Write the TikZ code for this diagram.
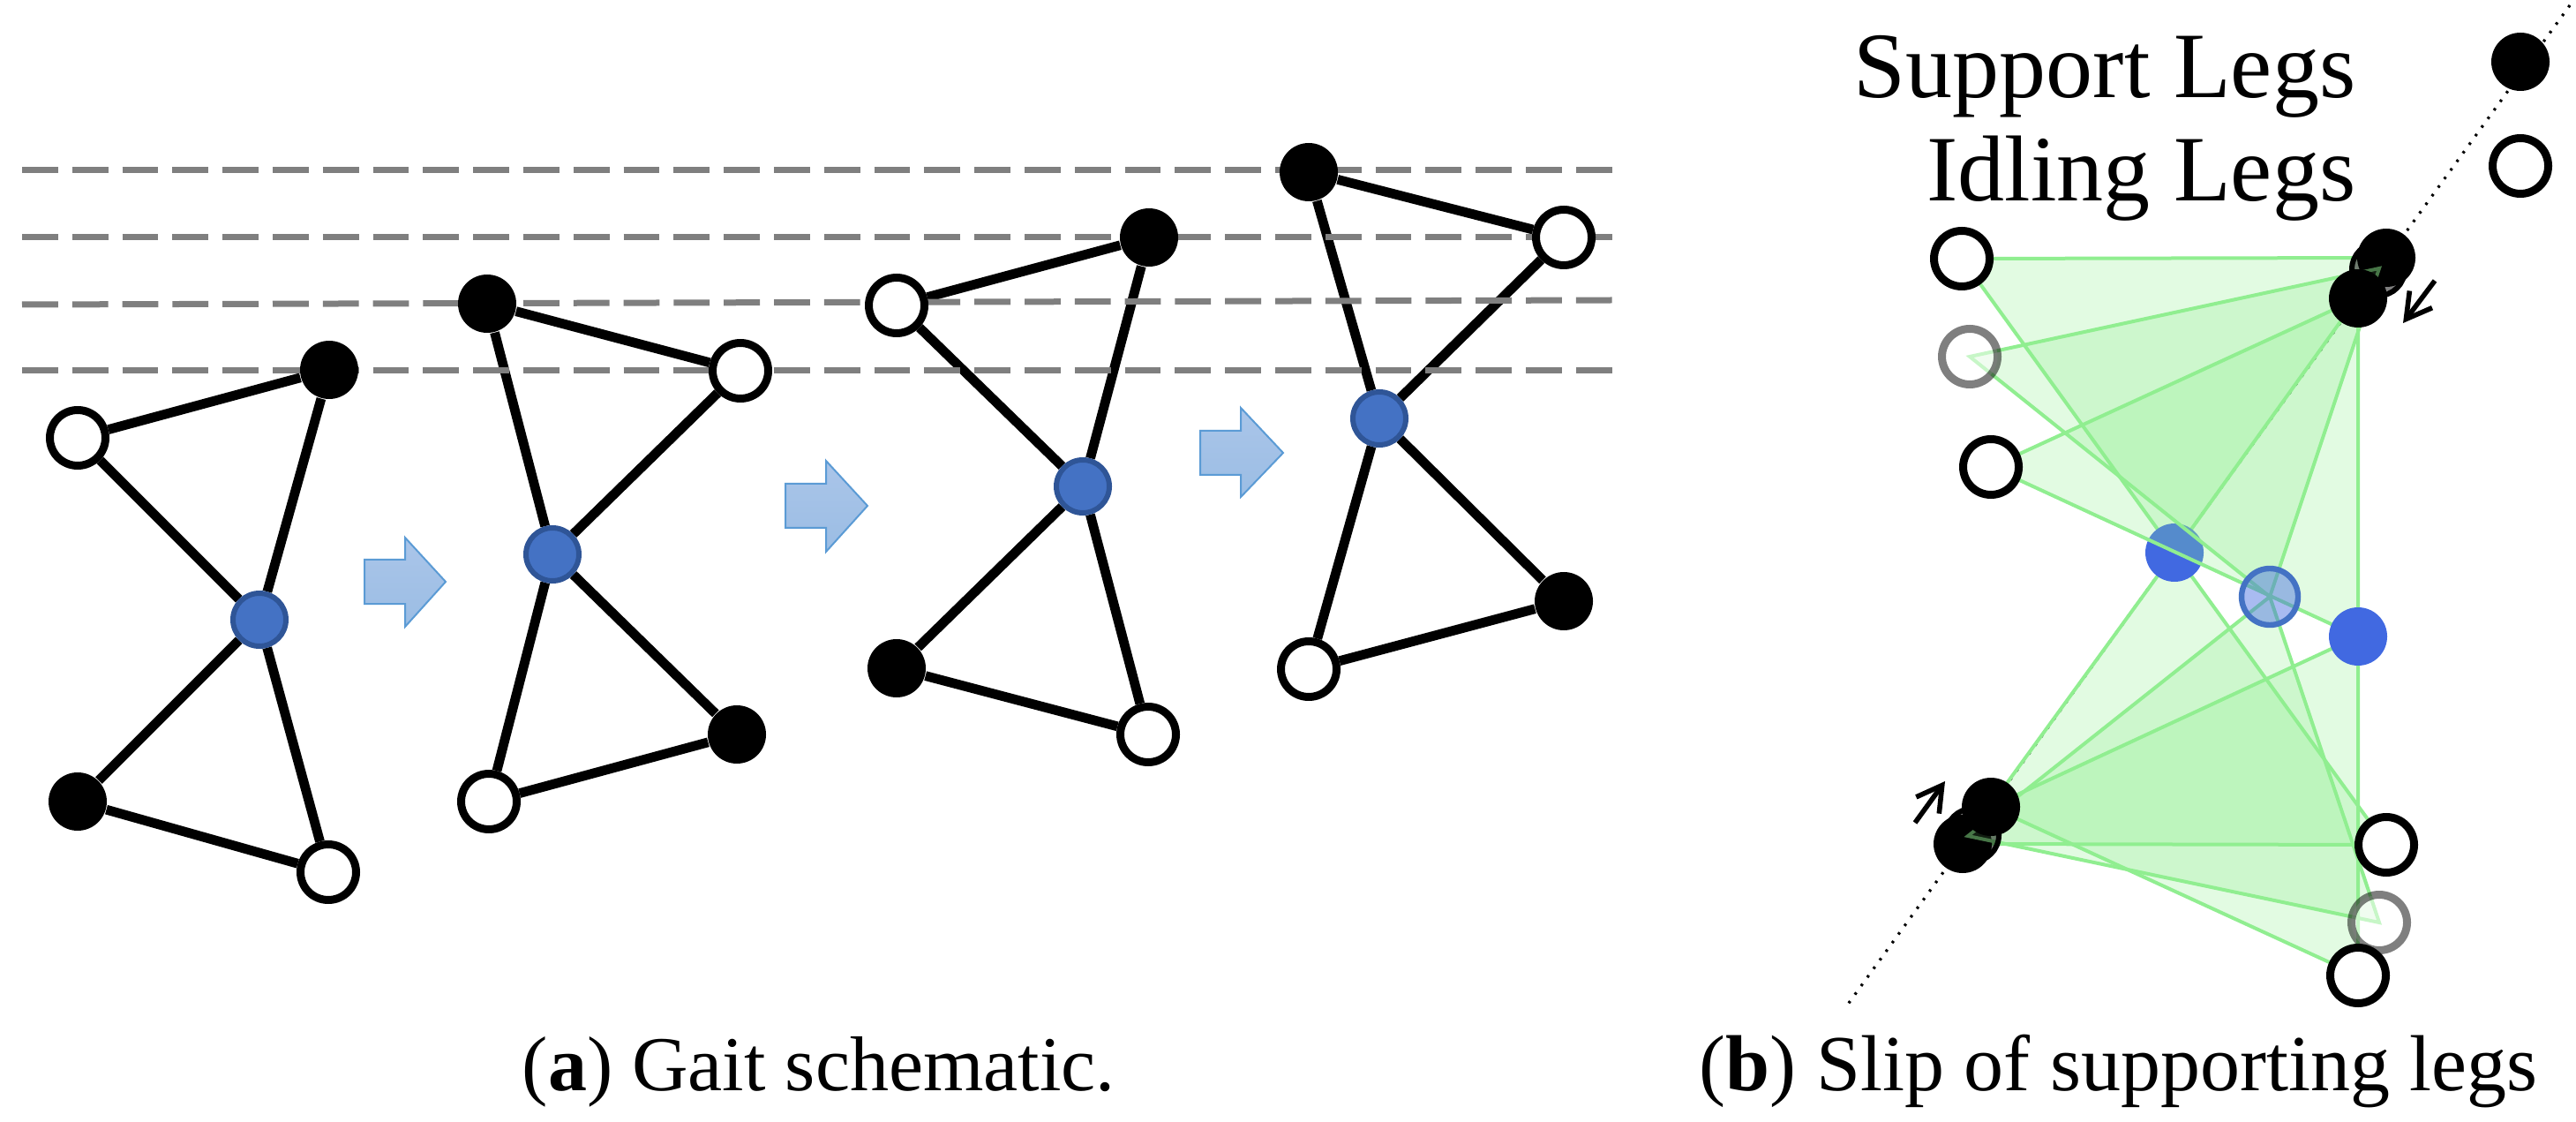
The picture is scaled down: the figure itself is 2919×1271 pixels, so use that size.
\documentclass[tikz,border=0pt]{standalone}
\usepackage{fontspec}
\setmainfont{Liberation Serif}
\usetikzlibrary{arrows.meta}
\pgfdeclarelayer{legs}
\pgfdeclarelayer{levels}
\pgfsetlayers{legs,levels,main}
\definecolor{bodyblue}{RGB}{68,114,196}
\definecolor{bodyedge}{RGB}{47,85,151}
\definecolor{slipblue}{RGB}{65,105,225}
\definecolor{slipgreen}{RGB}{144,238,144}
\definecolor{levelgray}{RGB}{127,127,127}
\tikzset{
  support/.style={circle,fill=black,inner sep=0pt,minimum size=16.5pt},
  idling/.style={circle,draw=black,fill=white,line width=2.25pt,inner sep=0pt,minimum size=15.75pt},
  body/.style={circle,draw=bodyedge,fill=bodyblue,line width=1.5pt,inner sep=0pt,minimum size=15pt},
  slipbody/.style={circle,fill=slipblue,inner sep=0pt,minimum size=16.5pt},
  leg/.style={line width=2.7pt},
  level/.style={draw=levelgray,line width=1.75pt,dash pattern=on 10.2pt off 4pt},
  step arrow/.style={draw={rgb,255:red,91;green,155;blue,213},line width=0.5pt,top color={rgb,255:red,170;green,197;blue,233},bottom color={rgb,255:red,155;green,189;blue,228}},
  region/.style={draw=slipgreen,line width=1pt,fill=slipgreen,fill opacity=0.26},
  ghost/.style={opacity=0.5},
  ghost support/.style={circle,fill=black,fill opacity=0.5,draw=black,line width=1.5pt,inner sep=0pt,minimum size=15pt},
  slip/.style={line width=1.4pt,-{Straight Barb[length=7pt,width=8pt]}},
  trace/.style={line width=0.8pt,dash pattern=on 0.7pt off 2.3pt},
  label/.style={inner sep=0pt,font=\fontsize{26.5pt}{26.5pt}\selectfont,anchor=base east},
  caption/.style={inner sep=0pt,font=\fontsize{22pt}{22pt}\selectfont,anchor=base west}
}
\begin{document}
\begin{tikzpicture}[x=0.25pt,y=0.25pt,yscale=-1,xscale=1]
\useasboundingbox (0,0) rectangle (2919,1271);

% First pose
\node [support] (aTop) at (373,419) {};
\node [idling] (aLeft) at (88,496) {};
\node [body] (aBody) at (294,702) {};
\node [support] (aLow) at (88,908) {};
\node [idling] (aRight) at (372,988) {};
% Second pose
\node [support] (bTop) at (552,344) {};
\node [idling] (bRight) at (839,420) {};
\node [body] (bBody) at (626,628) {};
\node [support] (bLow) at (835,832) {};
\node [idling] (bLeft) at (554,908) {};
% Third pose
\node [support] (cTop) at (1302,269) {};
\node [idling] (cLeft) at (1016,346) {};
\node [body] (cBody) at (1227,551) {};
\node [support] (cLow) at (1016,757) {};
\node [idling] (cRight) at (1301,832) {};
% Fourth pose
\node [support] (dTop) at (1483,195) {};
\node [idling] (dRight) at (1772,269) {};
\node [body] (dBody) at (1563,474) {};
\node [support] (dLow) at (1772,681) {};
\node [idling] (dLeft) at (1483,758) {};

\begin{pgfonlayer}{legs}
\draw [leg] (aLeft) -- (aTop) -- (aBody) -- (aRight) -- (aLow) -- (aBody) -- (aLeft);
\draw [leg] (bTop) -- (bRight) -- (bBody) -- (bLow) -- (bLeft) -- (bBody) -- (bTop);
\draw [leg] (cLeft) -- (cTop) -- (cBody) -- (cRight) -- (cLow) -- (cBody) -- (cLeft);
\draw [leg] (dTop) -- (dRight) -- (dBody) -- (dLow) -- (dLeft) -- (dBody) -- (dTop);
\end{pgfonlayer}

% Level lines
\coordinate (levelAw) at (25,193);
\coordinate (levelAe) at (1827,193);
\coordinate (levelBw) at (25,269);
\coordinate (levelBe) at (1827,269);
\coordinate (levelCw) at (25,345);
\coordinate (levelCe) at (1827,340);
\coordinate (levelDw) at (25,420);
\coordinate (levelDe) at (1827,420);
\begin{pgfonlayer}{levels}
\draw [level] (levelAw) -- (levelAe);
\draw [level] (levelBw) -- (levelBe);
\draw [level] (levelCw) -- (levelCe);
\draw [level] (levelDw) -- (levelDe);
\end{pgfonlayer}

% Block arrows
\draw [step arrow] (413,634) -- (459,634) -- (459,609) -- (505,659) -- (459,710) -- (459,684) -- (413,684) -- cycle;
\draw [step arrow] (890,548) -- (936,548) -- (936,522) -- (983,573) -- (936,625) -- (936,598) -- (890,598) -- cycle;
\draw [step arrow] (1360,488) -- (1406,488) -- (1406,462) -- (1454,513) -- (1406,563) -- (1406,538) -- (1360,538) -- cycle;

% Slip, named points
\coordinate (topA) at (2704,292);
\coordinate (topB) at (2696,304);
\coordinate (topC) at (2672,338);
\coordinate (lowA) at (2224,956);
\coordinate (lowB) at (2230,947);
\coordinate (lowC) at (2256,914);
\coordinate (idleA) at (2223,293);
\coordinate (idleB) at (2232,404);
\coordinate (idleC) at (2256,529);
\coordinate (freeA) at (2704,957);
\coordinate (freeB) at (2696,1045);
\coordinate (freeC) at (2672,1105);
\coordinate (midA) at (2464,626);
\coordinate (midB) at (2572,676);
\coordinate (midC) at (2672,721);

\coordinate (traceNE) at (2912,6);
\coordinate (traceSW) at (2090,1143);
\draw [trace] (traceNE) -- (traceSW);

% Regions under the first body
\draw [region] (idleA) -- (topA) -- (midA) -- cycle;
\draw [region] (midA) -- (lowA) -- (freeA) -- cycle;
\node [slipbody] (slipA) at (midA) {};
\node [support] (supA) at (topA) {};
\node [support] (supD) at (lowA) {};
% Regions over it
\draw [region] (idleC) -- (topC) -- (midC) -- cycle;
\draw [region] (midC) -- (lowC) -- (freeC) -- cycle;
\draw [region] (idleB) -- (topB) -- (midB) -- cycle;
\draw [region] (midB) -- (lowB) -- (freeB) -- cycle;
% Middle position, half faded
\node [ghost support] (supB) at (2695,305) {};
\node [ghost support] (supE) at (2235,946) {};
\node [idling,ghost] (idlB) at (idleB) {};
\node [idling,ghost] (freB) at (freeB) {};
\node [slipbody,fill opacity=0.45,draw=bodyblue,line width=1.6pt,minimum size=16pt] (slipB) at (midB) {};
% On top
\node [support] (supC) at (topC) {};
\node [support] (supF) at (lowC) {};
\node [idling] (idlA) at (idleA) {};
\node [idling] (idlC) at (idleC) {};
\node [idling] (freA) at (freeA) {};
\node [idling] (freC) at (freeC) {};
\node [slipbody] (slipC) at (midC) {};

% Slip arrows
\coordinate (slipTopFrom) at (2759,318);
\coordinate (slipTopTo) at (2723,366);
\coordinate (slipLowFrom) at (2170,932);
\coordinate (slipLowTo) at (2204,885);
\draw [slip] (slipTopFrom) -- (slipTopTo);
\draw [slip] (slipLowFrom) -- (slipLowTo);

% Legend
\node [support] (keySupport) at (2856,70) {};
\node [idling] (keyIdling) at (2856,188) {};
\node [label] (textSupport) at (2670,111) {Support Legs};
\node [label] (textIdling) at (2670,228) {Idling Legs};

% Text Node
\node [caption] (capA) at (591,1235) {(\textbf{a}) Gait schematic.};
% Text Node
\node [caption,font=\fontsize{22.5pt}{22.5pt}\selectfont] (capB) at (1925,1235) {(\textbf{b}) Slip of supporting legs};

\end{tikzpicture}
\end{document}
